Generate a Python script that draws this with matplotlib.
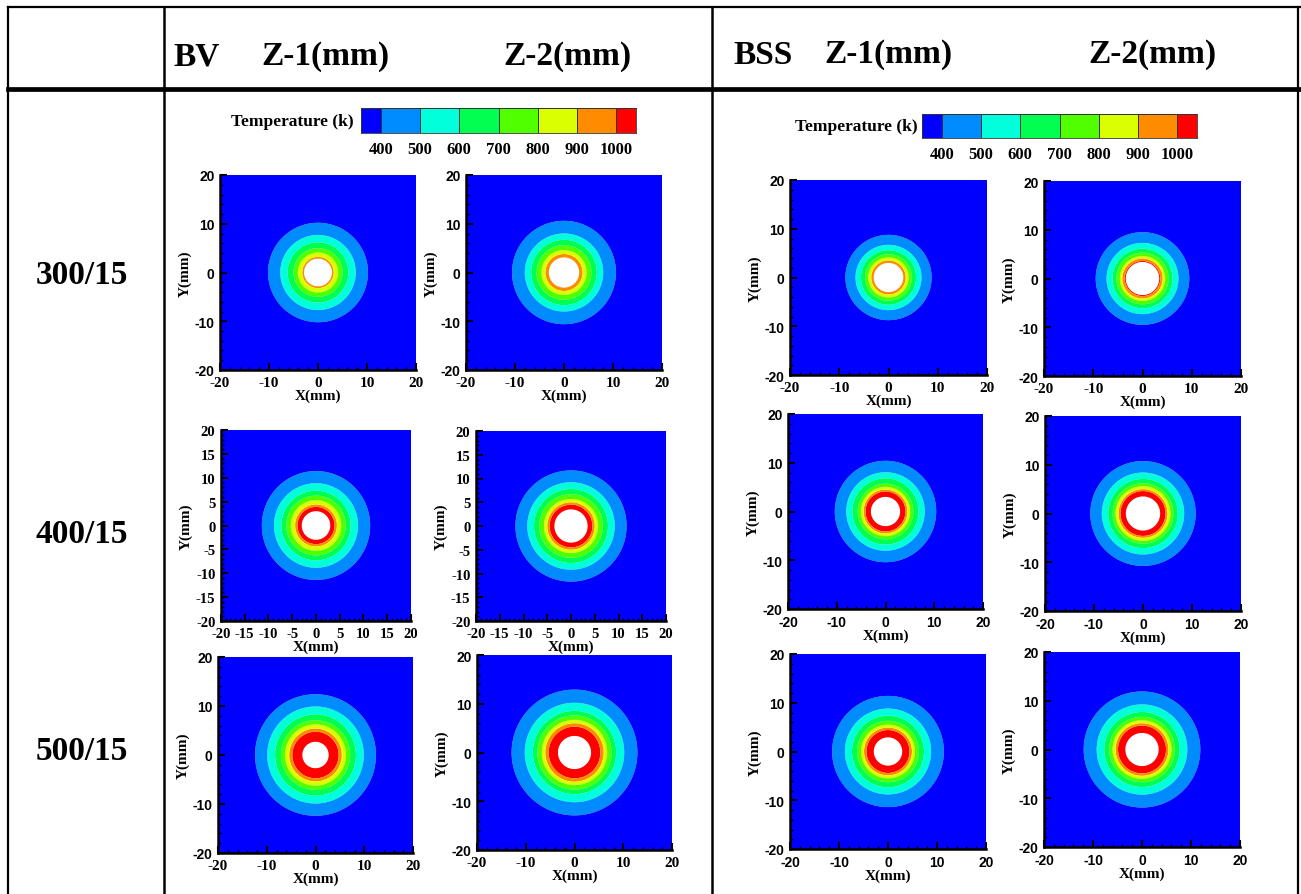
import numpy as np
import matplotlib
matplotlib.use('Agg')
import matplotlib.pyplot as plt
from matplotlib.lines import Line2D
from matplotlib.ticker import MultipleLocator
from matplotlib.colors import ListedColormap

W, H = 1301, 895
fig = plt.figure(figsize=(W / 100, H / 100), dpi=100)

SERIF = 'Liberation Serif'
SANS = 'Liberation Sans'

# ---------------- data ----------------
temp_levels = [400, 500, 600, 700, 800, 900, 1000]
band_colors = ['#0000FF', '#008CFF', '#00FFDA', '#00FF50', '#50FF00',
               '#DAFF00', '#FF8C00', '#FF0000']
row_labels = ['300/15', '400/15', '500/15']
col_headers = ['Z-1(mm)', 'Z-2(mm)']
group_names = ['BV', 'BSS']

# isotherm radii (mm) for 400,500,...,1000 K
r_bv_300_z1 = [10.2, 7.7, 6.2, 5.0, 4.1, 3.2, 2.85]
r_bv_300_z2 = [10.6, 8.0, 6.7, 5.6, 4.6, 3.8, 3.1]
r_bss_300_z1 = [8.75, 6.7, 5.6, 4.75, 4.1, 3.5, 3.0]
r_bss_300_z2 = [9.5, 7.3, 6.1, 5.3, 4.6, 4.1, 3.6]
r_bv_400_z1 = [11.4, 8.85, 7.3, 6.25, 5.3, 4.4, 3.9]
r_bv_400_z2 = [11.7, 9.2, 7.8, 6.7, 5.7, 5.0, 4.5]
r_bss_400_z1 = [10.4, 8.05, 6.8, 5.7, 5.05, 4.5, 4.1]
r_bss_400_z2 = [10.75, 8.4, 7.1, 6.2, 5.6, 5.0, 4.6]
r_bv_500_z1 = [12.4, 9.9, 8.3, 7.1, 6.25, 5.4, 4.75]
r_bv_500_z2 = [12.9, 10.2, 8.55, 7.6, 6.7, 6.0, 5.3]
r_bss_500_z1 = [11.4, 8.8, 7.35, 6.3, 5.5, 4.9, 4.4]
r_bss_500_z2 = [11.9, 9.25, 7.7, 6.7, 6.0, 5.4, 4.9]

# hole radius (mm): 300 z1, z2, 400 z1, z2, 500 z1, z2
hole_bv = [2.85, 3.1, 3.0, 3.5, 2.7, 3.4]
hole_bss = [3.0, 3.4, 3.0, 3.5, 2.9, 3.4]

axis_ticks = [-20, -10, 0, 10, 20]
axis_ticks_fine = [-20, -15, -10, -5, 0, 5, 10, 15, 20]


def fx(px):
    return px / W


def fy(py):
    return 1 - py / H


def add_axes_px(x0, y0, x1, y1):
    return fig.add_axes([fx(x0), fy(y1), (x1 - x0) / W, (y1 - y0) / H])


# ---------------- table frame ----------------
def hline(y, x0, x1, lw):
    fig.add_artist(Line2D([fx(x0), fx(x1)], [fy(y), fy(y)], color='black', lw=lw))


def vline(x, y0, y1, lw):
    fig.add_artist(Line2D([fx(x), fx(x)], [fy(y0), fy(y1)], color='black', lw=lw))


hline(8, 8, 1301, 1.6)
hline(90, 8, 1301, 3.4)
vline(8, 8, 895, 1.6)
vline(164, 8, 895, 1.8)
vline(712, 8, 895, 1.8)
vline(1298, 8, 895, 1.6)

hdr = dict(fontfamily=SERIF, fontweight='bold', fontsize=24, va='center')
fig.text(fx(173), fy(57), group_names[0], ha='left', **hdr)
fig.text(fx(325), fy(57), col_headers[0], ha='center', **hdr)
fig.text(fx(567), fy(57), col_headers[1], ha='center', **hdr)
fig.text(fx(733), fy(55), group_names[1], ha='left', **hdr)
fig.text(fx(888), fy(55), col_headers[0], ha='center', **hdr)
fig.text(fx(1152), fy(55), col_headers[1], ha='center', **hdr)

for lab, yy in zip(row_labels, [275, 535, 752]):
    fig.text(fx(82), fy(yy), lab, ha='center', **hdr)


# ---------------- colour bars ----------------
def colorbar_px(x0, y0, x1, y1, label_x):
    ax = add_axes_px(x0, y0, x1, y1)
    edges = np.array([350] + temp_levels + [1050])
    vals = np.arange(len(edges) - 1).reshape(1, -1)
    ax.pcolormesh(edges, [0, 1], vals, cmap=ListedColormap(band_colors),
                  edgecolors='#333333', linewidth=0.6)
    ax.set_xlim(350, 1050)
    ax.set_ylim(0, 1)
    ax.set_yticks([])
    ax.set_xticks(temp_levels)
    ax.set_xticklabels([str(t) for t in temp_levels], fontfamily=SERIF,
                       fontweight='bold', fontsize=12)
    ax.tick_params(axis='x', length=0, pad=6)
    for s in ax.spines.values():
        s.set_linewidth(0.6)
        s.set_color('#333333')
    fig.text(fx(label_x), fy((y0 + y1) / 2), 'Temperature (k)', ha='right',
             va='center', fontfamily=SERIF, fontweight='bold', fontsize=12.5)


colorbar_px(361, 109, 636, 134, 354)
colorbar_px(922, 115, 1197, 139, 918)


# ---------------- contour panels ----------------
grid = np.linspace(-20, 20, 801)
GX, GY = np.meshgrid(grid, grid)
GR = np.hypot(GX, GY)


def panel(rect, radii, hole, fine=False, xsans=False):
    ax = add_axes_px(*rect)
    edges = [0.0, hole] + list(radii[::-1]) + [40.0]
    cols = ['white'] + band_colors[::-1]
    lev, cc = [edges[0]], []
    for i in range(len(cols)):
        if edges[i + 1] > lev[-1] + 1e-9:
            lev.append(edges[i + 1])
            cc.append(cols[i])
    ax.contourf(GX, GY, GR, levels=lev, colors=cc, antialiased=True)
    ax.set_xlim(-20, 20)
    ax.set_ylim(-20, 20)
    for s in ['top', 'right']:
        ax.spines[s].set_visible(False)
    for s in ['left', 'bottom']:
        ax.spines[s].set_linewidth(1.8)
    if fine:
        ax.set_xticks(axis_ticks_fine)
        ax.set_yticks(axis_ticks_fine)
        ax.xaxis.set_minor_locator(MultipleLocator(1))
        ax.yaxis.set_minor_locator(MultipleLocator(1))
        yfam, xfam, ls = SERIF, SERIF, 10.5
    else:
        ax.set_xticks(axis_ticks)
        ax.set_yticks(axis_ticks)
        ax.xaxis.set_minor_locator(MultipleLocator(2))
        ax.yaxis.set_minor_locator(MultipleLocator(2))
        yfam, xfam, ls = SANS, (SANS if xsans else SERIF), 10
    ax.tick_params(which='major', direction='in', length=5, width=1.5)
    ax.tick_params(which='minor', direction='in', length=2.5, width=1.0)
    ax.tick_params(axis='x', which='major', pad=4)
    ax.tick_params(axis='y', which='major', pad=4)
    ax.set_xticklabels([str(t) for t in ax.get_xticks().astype(int)],
                       fontfamily=xfam, fontweight='bold',
                       fontsize=ls + (1 if xfam == SERIF and not fine else 0))
    ax.set_yticklabels([str(t) for t in ax.get_yticks().astype(int)],
                       fontfamily=yfam, fontweight='bold', fontsize=ls)
    ax.set_xlabel('X(mm)', fontfamily=SERIF, fontweight='bold', fontsize=11, labelpad=0)
    ax.set_ylabel('Y(mm)', fontfamily=SERIF, fontweight='bold', fontsize=11, labelpad=2)
    return ax


panel((220, 176, 416, 371), r_bv_300_z1, hole_bv[0])
panel((466, 176, 662, 371), r_bv_300_z2, hole_bv[1])
panel((790, 181, 987, 376), r_bss_300_z1, hole_bss[0])
panel((1044, 182, 1241, 377), r_bss_300_z2, hole_bss[1])

panel((221, 431, 411, 622), r_bv_400_z1, hole_bv[2], fine=True)
panel((476, 432, 666, 622), r_bv_400_z2, hole_bv[3], fine=True)
panel((788, 415, 983, 610), r_bss_400_z1, hole_bss[2], xsans=True)
panel((1045, 417, 1241, 612), r_bss_400_z2, hole_bss[3], xsans=True)

panel((218, 658, 413, 854), r_bv_500_z1, hole_bv[4])
panel((477, 656, 672, 851), r_bv_500_z2, hole_bv[5])
panel((790, 655, 986, 850), r_bss_500_z1, hole_bss[4], xsans=True)
panel((1044, 653, 1240, 848), r_bss_500_z2, hole_bss[5], xsans=True)

fig.savefig('out.png', dpi=100)
